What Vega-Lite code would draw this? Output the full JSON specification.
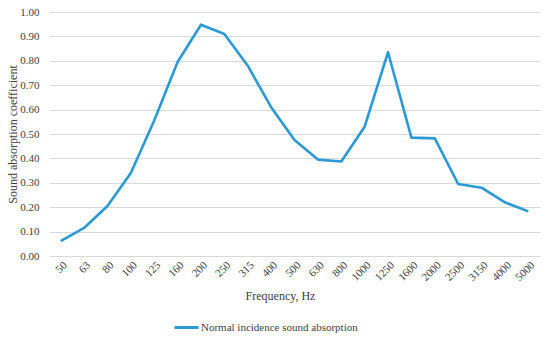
{
  "$schema": "https://vega.github.io/schema/vega-lite/v6.json",
  "width": 491,
  "height": 244,
  "autosize": {"type": "none"},
  "padding": {"left": 49, "top": 12, "right": 10, "bottom": 85},
  "background": "white",
  "config": {
    "view": {"stroke": null},
    "font": "Liberation Serif",
    "axis": {"labelFont": "Liberation Serif", "titleFont": "Liberation Serif", "labelColor": "#404040", "titleColor": "#404040", "titleFontWeight": "normal"},
    "legend": {"labelFont": "Liberation Serif"}
  },
  "data": {
    "values": [
      {"f": "50", "a": 0.061, "s": "Normal incidence sound absorption"},
      {"f": "63", "a": 0.115, "s": "Normal incidence sound absorption"},
      {"f": "80", "a": 0.205, "s": "Normal incidence sound absorption"},
      {"f": "100", "a": 0.34, "s": "Normal incidence sound absorption"},
      {"f": "125", "a": 0.555, "s": "Normal incidence sound absorption"},
      {"f": "160", "a": 0.795, "s": "Normal incidence sound absorption"},
      {"f": "200", "a": 0.948, "s": "Normal incidence sound absorption"},
      {"f": "250", "a": 0.91, "s": "Normal incidence sound absorption"},
      {"f": "315", "a": 0.78, "s": "Normal incidence sound absorption"},
      {"f": "400", "a": 0.61, "s": "Normal incidence sound absorption"},
      {"f": "500", "a": 0.475, "s": "Normal incidence sound absorption"},
      {"f": "630", "a": 0.395, "s": "Normal incidence sound absorption"},
      {"f": "800", "a": 0.387, "s": "Normal incidence sound absorption"},
      {"f": "1000", "a": 0.53, "s": "Normal incidence sound absorption"},
      {"f": "1250", "a": 0.835, "s": "Normal incidence sound absorption"},
      {"f": "1600", "a": 0.485, "s": "Normal incidence sound absorption"},
      {"f": "2000", "a": 0.482, "s": "Normal incidence sound absorption"},
      {"f": "2500", "a": 0.295, "s": "Normal incidence sound absorption"},
      {"f": "3150", "a": 0.28, "s": "Normal incidence sound absorption"},
      {"f": "4000", "a": 0.22, "s": "Normal incidence sound absorption"},
      {"f": "5000", "a": 0.183, "s": "Normal incidence sound absorption"}
    ]
  },
  "mark": {"type": "line", "strokeWidth": 2.6, "strokeJoin": "round"},
  "encoding": {
    "x": {
      "field": "f", "type": "ordinal", "sort": null,
      "scale": {"type": "point", "padding": 0.5},
      "axis": {"title": "Frequency, Hz", "titleFontSize": 12, "labelFontSize": 11, "labelAngle": -45, "labelOverlap": false, "ticks": false, "domain": false, "grid": false, "labelPadding": 3, "titlePadding": 8, "titleX": 231}
    },
    "y": {
      "field": "a", "type": "quantitative",
      "scale": {"domain": [0, 1]},
      "axis": {"title": "Sound absorption coefficient", "titleFontSize": 12, "labelFontSize": 11, "format": ".2f", "values": [0, 0.1, 0.2, 0.3, 0.4, 0.5, 0.6, 0.7, 0.8, 0.9, 1.0], "labelOverlap": false, "ticks": false, "domain": false, "gridColor": "#d9d9d9", "gridWidth": 1, "labelPadding": 10, "titleX": -37, "titleBaseline": "middle"}
    },
    "color": {
      "field": "s", "type": "nominal",
      "scale": {"range": ["#2b9ad4"]},
      "legend": {"title": null, "orient": "none", "legendX": 124, "legendY": 302, "symbolType": "stroke", "symbolSize": 576, "symbolStrokeWidth": 3, "labelFontSize": 11, "labelLimit": 0, "labelColor": "#404040", "labelOffset": 1}
    }
  }
}
